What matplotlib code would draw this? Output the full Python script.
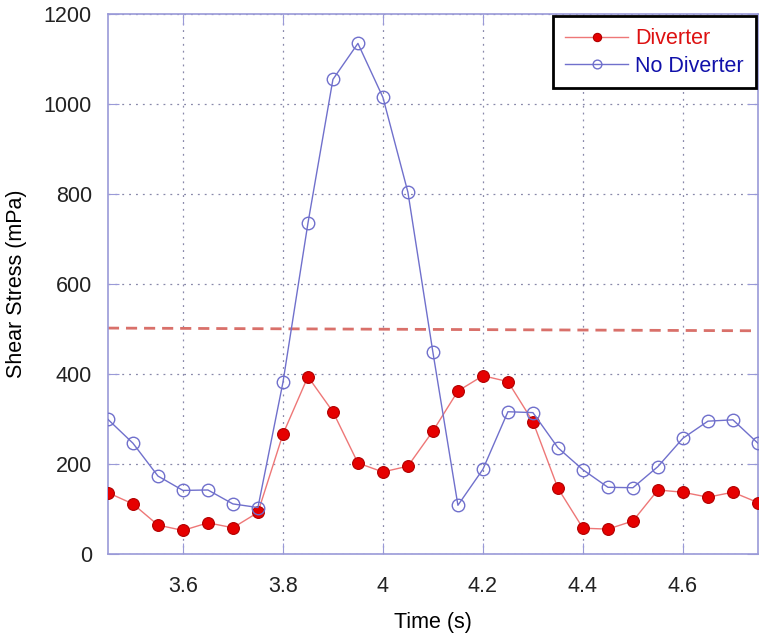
import numpy as np
import matplotlib
matplotlib.use("Agg")
import matplotlib.pyplot as plt

plt.rcParams.update({"font.family": ["Liberation Sans", "DejaVu Sans"]})

# Tiempo (s) y esfuerzo cortante (mPa)
time_s = [3.45, 3.50, 3.55, 3.60, 3.65, 3.70, 3.75, 3.80, 3.85, 3.90, 3.95, 4.00, 4.05, 4.10,
          4.15, 4.20, 4.25, 4.30, 4.35, 4.40, 4.45, 4.50, 4.55, 4.60, 4.65, 4.70, 4.75]
diverter = [136, 111, 64, 52, 69, 58, 92, 266, 394, 316, 202, 182, 195, 273,
            362, 396, 383, 294, 146, 57, 55, 73, 142, 137, 126, 137, 114]
no_diverter = [299, 246, 173, 141, 142, 111, 103, 381, 735, 1055, 1135, 1015, 804, 448,
               108, 188, 316, 314, 236, 187, 148, 147, 194, 257, 295, 298, 246]
threshold_t = [3.45, 4.75]
threshold = [502, 496]

AX_COL = "#9a9ad8"
FS = 15.5

fig = plt.figure(figsize=(7.71, 6.44), dpi=100)
ax = fig.add_axes([0.140, 0.140, 0.843, 0.838])

ax.plot(threshold_t, threshold, ls=(0, (4, 2.5)), color="#d9706a", lw=2.0, zorder=2)
ax.plot(time_s, diverter, "-o", color="#ee7777", lw=1.0, ms=8.5,
        mfc="#e60000", mec="#b00000", mew=0.8, label="Diverter", zorder=3)
ax.plot(time_s, no_diverter, "-o", color="#7070cc", lw=1.0, ms=9,
        mfc="none", mec="#7070cc", mew=1.0, label="No Diverter", zorder=3)

ax.set_xlim(3.45, 4.75)
ax.set_ylim(0, 1200)
ax.set_xticks([3.6, 3.8, 4.0, 4.2, 4.4, 4.6])
ax.set_xticklabels(["3.6", "3.8", "4", "4.2", "4.4", "4.6"])
ax.set_yticks(range(0, 1201, 200))
ax.grid(True, ls=(0, (1.5, 4)), color="#8888aa", lw=0.9)
ax.tick_params(direction="in", length=8, color=AX_COL, labelsize=FS,
               top=True, right=True, labelcolor="#222222")
ax.tick_params(axis="x", pad=16)
ax.tick_params(axis="y", pad=11.5)
for sp in ax.spines.values():
    sp.set_edgecolor(AX_COL)
    sp.set_linewidth(1.2)

ax.set_xlabel("Time (s)", fontsize=FS, labelpad=11)
ax.set_ylabel("Shear Stress (mPa)", fontsize=FS, labelpad=12)

leg = ax.legend(loc="upper right", fontsize=FS, fancybox=False, framealpha=1,
                borderaxespad=0.1, handlelength=2.9, handletextpad=0.35,
                borderpad=0.55, labelspacing=0.3, markerscale=0.7)
leg.get_frame().set_edgecolor("black")
leg.get_frame().set_linewidth(2)
for txt, col in zip(leg.get_texts(), ["#dd1111", "#1111aa"]):
    txt.set_color(col)

fig.savefig("out.png", dpi=100, facecolor="white")
